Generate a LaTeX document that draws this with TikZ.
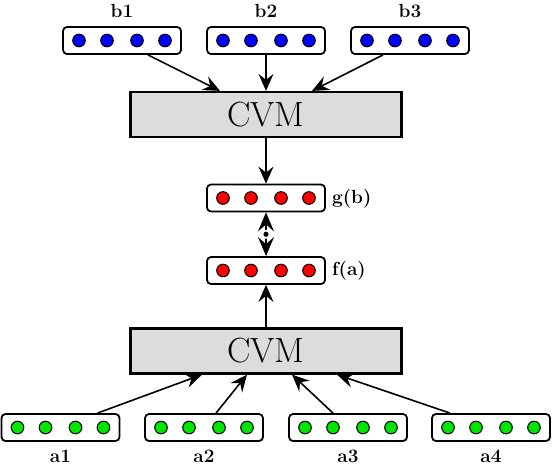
\documentclass[tikz,border=0pt]{standalone}
\usepackage{xcolor}
\usepackage{tikz}
\usetikzlibrary{arrows.meta, positioning, calc}
\definecolor{CVMGray}{RGB}{220, 220, 220}
\definecolor{DotBlue}{RGB}{0, 0, 255}
\definecolor{DotRed}{RGB}{255, 0, 0}
\definecolor{DotGreen}{RGB}{0, 230, 0}

\tikzset{
  vecbox/.style={draw, line width=1.8pt, rounded corners=4pt, fill=white,
    minimum width=118pt, minimum height=27pt, inner sep=0pt},
  cvmbox/.style={draw, line width=2.2pt, fill=CVMGray,
    minimum width=271pt, minimum height=45pt, inner sep=0pt,
    font=\fontsize{35}{38}\selectfont},
  veclabel/.style={inner sep=0pt, font=\fontsize{19}{21}\selectfont\bfseries},
  link/.style={line width=1.6pt, -{Stealth[length=17pt,width=15pt,inset=6pt]}},
  dotlink/.style={line width=1.6pt,
    {Stealth[length=19pt,width=16pt,inset=7pt]}-{Stealth[length=19pt,width=16pt,inset=7pt]}}
}

% one vector of four units
\newcommand{\vecrow}[3]{%
  \node[vecbox] (#1) at (#2) {};
  \foreach \dx in {-43,-15,15,43}
    \draw[line width=1pt, fill=#3] ($(#1)+(\dx,0)$) circle (6.3pt);
}

\begin{document}
\begin{tikzpicture}[x=1pt,y=-1pt]
  \path[use as bounding box] (0,0) rectangle (552,466);

  % top: phrase b
  \vecrow{b1}{122,40.5}{DotBlue}
  \vecrow{b2}{266,40.5}{DotBlue}
  \vecrow{b3}{410,40.5}{DotBlue}
  \node[veclabel] (lb1) at (122,11) {b1};
  \node[veclabel] (lb2) at (266,11) {b2};
  \node[veclabel] (lb3) at (410,11) {b3};

  \node[cvmbox] (cvmtop) at (266,114.5) {CVM};

  \draw[link] ([xshift=26pt]b1.south) -- ([xshift=-46pt]cvmtop.north);
  \draw[link] (b2.south) -- (cvmtop.north);
  \draw[link] ([xshift=-27pt]b3.south) -- ([xshift=46pt]cvmtop.north);

  % middle: the two sentence vectors
  \vecrow{gb}{266,198}{DotRed}
  \vecrow{fa}{266,270.5}{DotRed}
  \node[veclabel, anchor=west] (lgb) at (332,199) {g(b)};
  \node[veclabel, anchor=west] (lfa) at (332,271) {f(a)};

  \draw[link] (cvmtop.south) -- (gb.north);
  \draw[dotlink] (gb.south) --
    node[circle, fill=white, inner sep=0pt, minimum size=9pt] (dotp) {} (fa.north);
  \fill (dotp) circle (2.6pt);

  % bottom: phrase a
  \node[cvmbox] (cvmbot) at (266,351) {CVM};
  \draw[link] (cvmbot.north) -- (fa.south);

  \vecrow{a1}{60.5,427.5}{DotGreen}
  \vecrow{a2}{204,427.5}{DotGreen}
  \vecrow{a3}{348,427.5}{DotGreen}
  \vecrow{a4}{491,427.5}{DotGreen}
  \node[veclabel, anchor=base] (la1) at (60.5,462) {a1};
  \node[veclabel, anchor=base] (la2) at (204,462) {a2};
  \node[veclabel, anchor=base] (la3) at (348,462) {a3};
  \node[veclabel, anchor=base] (la4) at (491,462) {a4};

  \draw[link] ([xshift=37pt]a1.north) -- ([xshift=-64pt]cvmbot.south);
  \draw[link] ([xshift=12pt]a2.north) -- ([xshift=-19pt]cvmbot.south);
  \draw[link] ([xshift=-15pt]a3.north) -- ([xshift=26pt]cvmbot.south);
  \draw[link] ([xshift=-41pt]a4.north) -- ([xshift=71pt]cvmbot.south);
\end{tikzpicture}
\end{document}
